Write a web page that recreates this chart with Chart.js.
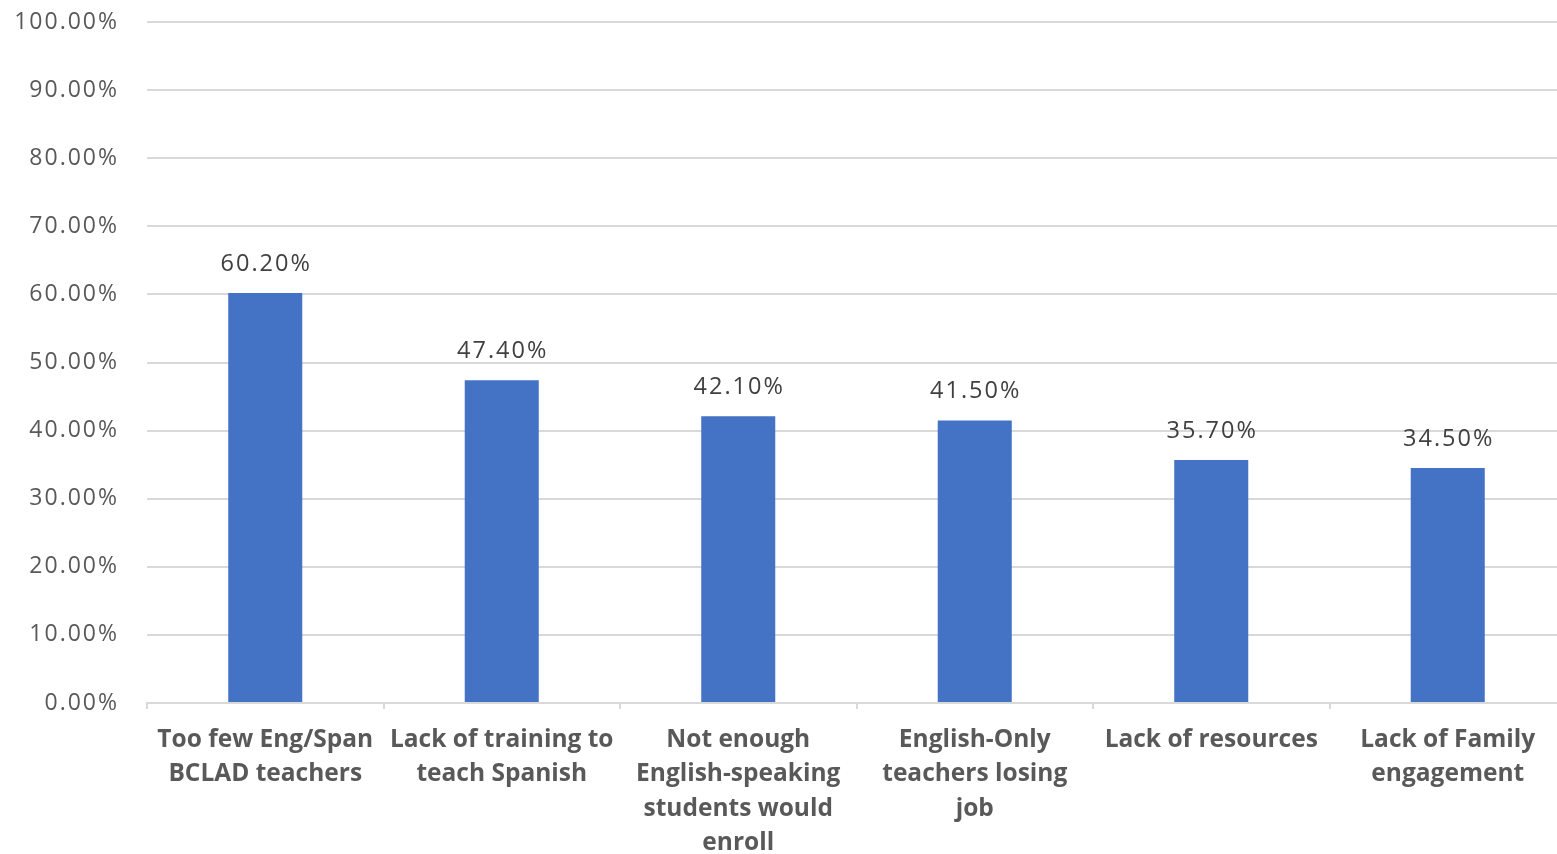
<!DOCTYPE html>
<html>
<head>
<meta charset="utf-8">
<script src="https://cdn.jsdelivr.net/npm/chart.js@4.4.1/dist/chart.umd.min.js"></script>
<style>
  html, body { margin: 0; padding: 0; background: #ffffff; overflow: hidden; }
  #wrap { position: relative; width: 1570px; height: 854px; }
</style>
</head>
<body>
<div id="wrap"><canvas id="chart" width="1570" height="854"></canvas></div>
<script>
// Reasons given as barriers, with the share of respondents naming each
const categories = [
  ["Too few Eng/Span", "BCLAD teachers"],
  ["Lack of training to", "teach Spanish"],
  ["Not enough", "English-speaking", "students would", "enroll"],
  ["English-Only", "teachers losing", "job"],
  ["Lack of resources"],
  ["Lack of Family", "engagement"]
];
const percentValues = [60.2, 47.4, 42.1, 41.5, 35.7, 34.5];
const yTickMin = 0;
const yTickMax = 100;
const yTickStep = 10;

const BAR_COLOR = "#4472C4";
const GRID_COLOR = "#d9d9d9";
const TEXT_COLOR = "#595959";
const LABEL_COLOR = "#404040";
const FONT = "'Open Sans', 'Noto Sans', sans-serif";

const fmtPct = v => Number(v).toFixed(2) + "%";

// Spaced-out text for the value axis and the value labels;
// category labels (drawn in a later layer) go back to normal spacing
const spacing = {
  id: "spacing",
  beforeDraw(chart) {
    chart.ctx.letterSpacing = "2px";
  },
  afterDatasetsDraw(chart) {
    const ctx = chart.ctx;
    const meta = chart.getDatasetMeta(0);
    ctx.save();
    ctx.letterSpacing = "2px";
    ctx.font = "23.5px " + FONT;
    ctx.fillStyle = LABEL_COLOR;
    ctx.textAlign = "center";
    ctx.textBaseline = "alphabetic";
    meta.data.forEach((bar, i) => {
      const v = chart.data.datasets[0].data[i];
      ctx.fillText(fmtPct(v), bar.x + 1, bar.y - 22);
    });
    ctx.restore();
    ctx.letterSpacing = "0px";
  },
  afterDraw(chart) {
    chart.ctx.letterSpacing = "0px";
  }
};

new Chart(document.getElementById("chart"), {
  type: "bar",
  data: {
    labels: categories,
    datasets: [{
      data: percentValues,
      backgroundColor: BAR_COLOR,
      borderWidth: 0,
      categoryPercentage: 1,
      barPercentage: 0.313
    }]
  },
  options: {
    responsive: false,
    animation: false,
    devicePixelRatio: 1,
    layout: { padding: { top: 22, right: 4, bottom: 0, left: 0 } },
    plugins: {
      legend: { display: false },
      title: { display: false },
      tooltip: { enabled: false }
    },
    scales: {
      x: {
        offset: true,
        grid: {
          offset: true,
          drawOnChartArea: false,
          drawTicks: true,
          tickLength: 6,
          color: GRID_COLOR,
          lineWidth: 2,
          z: 1
        },
        border: { display: true, color: GRID_COLOR, width: 2, z: 1 },
        ticks: {
          z: 1,
          autoSkip: false,
          maxRotation: 0,
          minRotation: 0,
          padding: 14,
          color: TEXT_COLOR,
          font: { family: FONT, size: 24.5, weight: "bold", lineHeight: 1.4 }
        },
        afterFit(scale) { scale.height = 151; }
      },
      y: {
        min: yTickMin,
        max: yTickMax,
        ticks: {
          stepSize: yTickStep,
          padding: 28,
          color: TEXT_COLOR,
          font: { family: FONT, size: 23 },
          callback: v => fmtPct(v)
        },
        grid: {
          color: GRID_COLOR,
          lineWidth: 2,
          drawTicks: false
        },
        border: { display: false },
        afterFit(scale) {
          scale.width = 147;
          scale.paddingTop = 0;
          scale.paddingBottom = 0;
        }
      }
    }
  },
  plugins: [spacing]
});
</script>
</body>
</html>
